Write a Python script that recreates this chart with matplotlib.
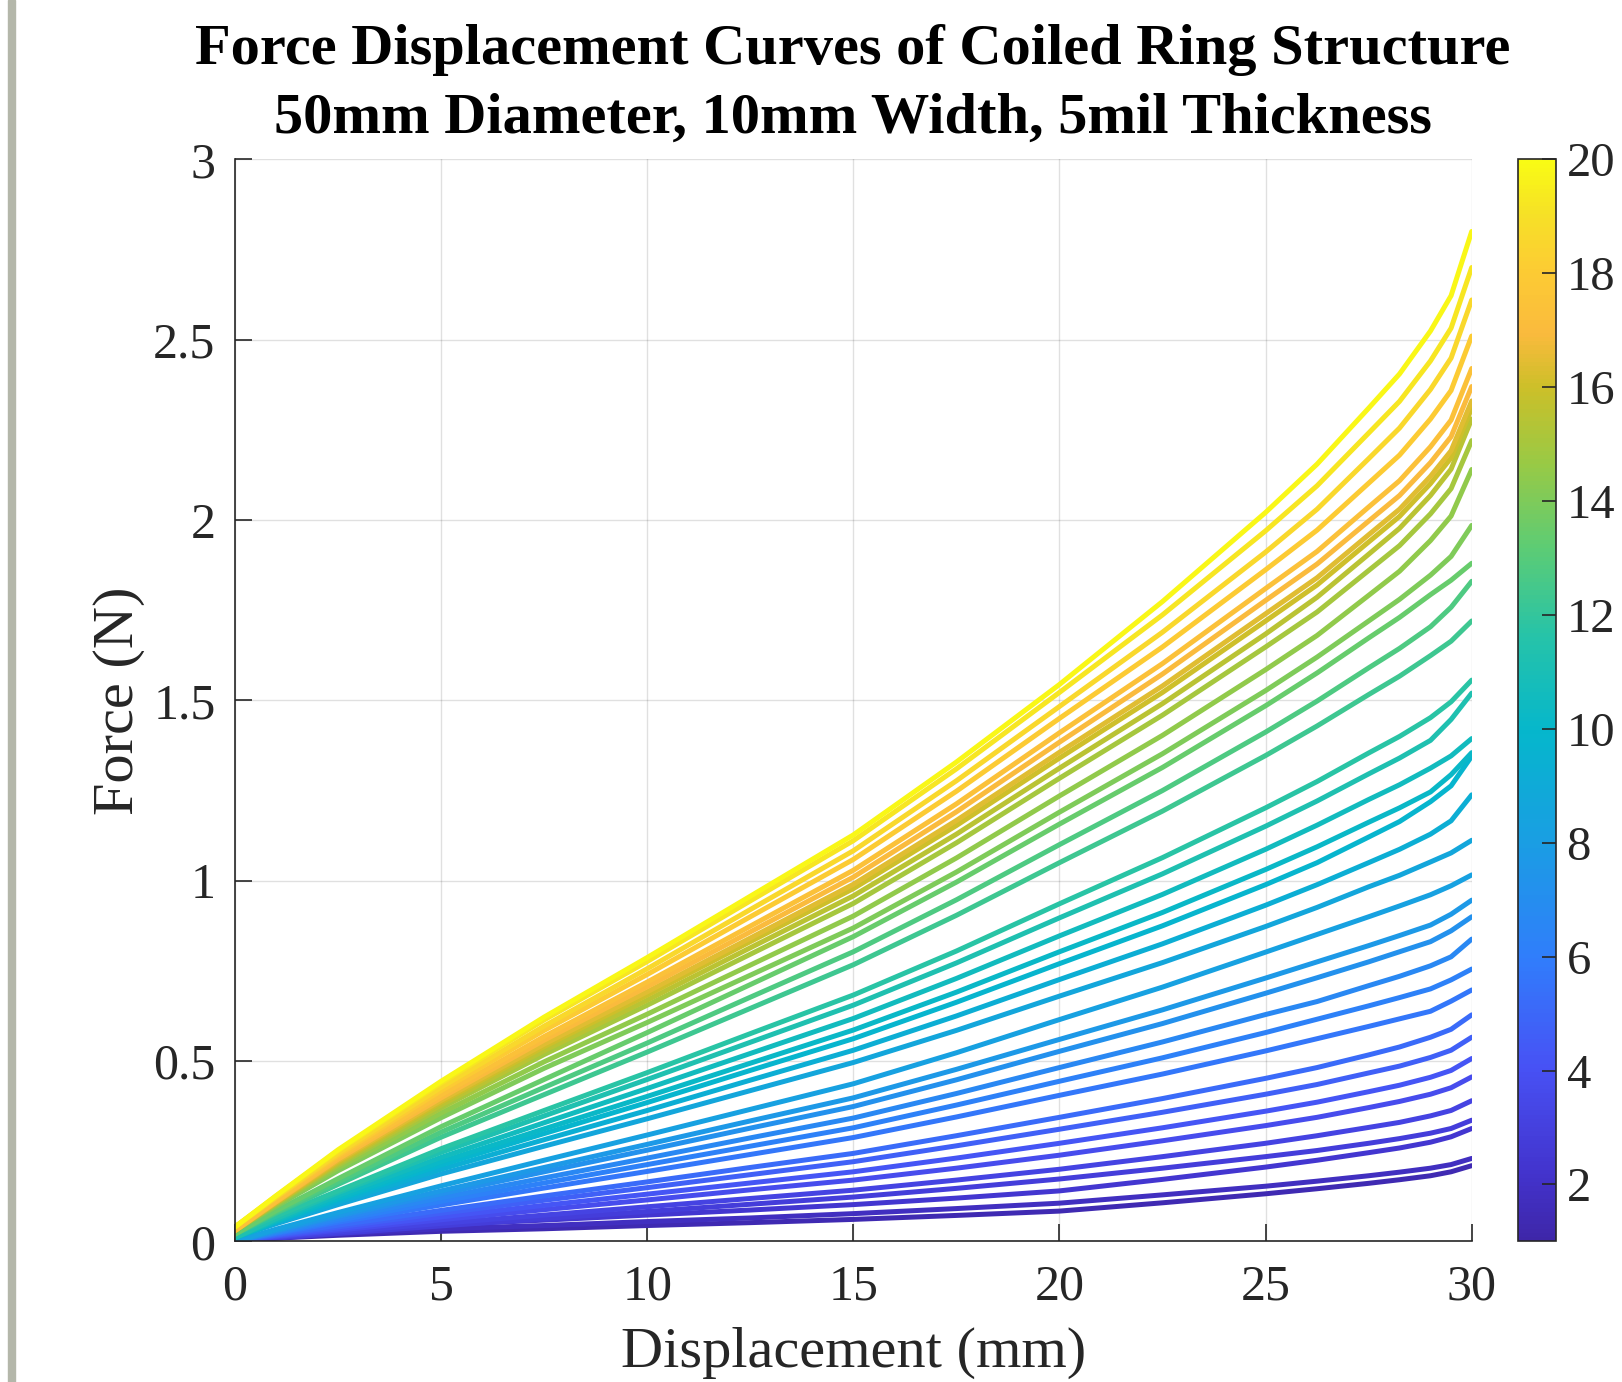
import numpy as np
import matplotlib
matplotlib.use("Agg")
import matplotlib.pyplot as plt
from matplotlib.colors import LinearSegmentedColormap, Normalize
from matplotlib.patches import Rectangle
from matplotlib.ticker import FuncFormatter

plt.rcParams['font.family'] = ['Liberation Serif', 'DejaVu Serif']

# displacement positions (mm) where the curves were read
x_pts = [0, 1, 2.5, 5, 7.5, 10, 12.5, 15, 17.5, 20, 22.5, 25, 26.25, 27.5, 28.25, 29, 29.5, 30]

# colour value of each curve (colorbar 1..20)
c_vals = [19.8, 19.2, 18.6, 18.0, 17.4, 17.0, 16.4, 16.0, 15.5, 15.0, 14.5, 14.0,
          13.4, 12.8, 12.3, 11.7, 11.3, 10.6, 10.2, 9.8, 9.3, 8.7,
          8.2, 7.7, 7.2, 6.7, 6.2, 5.7, 5.2, 4.7, 4.2, 3.7, 3.2, 2.8,
          2.4, 1.8, 1.3]

# force (N) of every curve at each displacement
f_0 = [0.04, 0.04, 0.04, 0.04, 0.03, 0.03, 0.03, 0.03, 0.03, 0.03, 0.03, 0.03,
       0.02, 0.02, 0.02, 0.02, 0.01, 0.01, 0.01, 0.01, 0.01, 0.01,
       0, 0, 0, 0, 0, 0, 0, 0, 0, 0, 0, 0, 0, 0, 0]
f_1 = [0.127, 0.126, 0.123, 0.121, 0.112, 0.110, 0.109, 0.107, 0.106, 0.104, 0.101, 0.097,
       0.085, 0.081, 0.078, 0.070, 0.063, 0.059, 0.056, 0.055, 0.052, 0.049,
       0.034, 0.031, 0.029, 0.026, 0.024, 0.022, 0.019, 0.017, 0.015, 0.013, 0.011, 0.009,
       0.014, 0.011, 0.009]
f_2p5 = [0.254, 0.251, 0.244, 0.239, 0.233, 0.228, 0.224, 0.220, 0.216, 0.211, 0.204, 0.196,
         0.174, 0.165, 0.158, 0.140, 0.135, 0.127, 0.120, 0.116, 0.109, 0.102,
         0.080, 0.073, 0.069, 0.063, 0.058, 0.053, 0.045, 0.040, 0.035, 0.031, 0.026, 0.022,
         0.028, 0.021, 0.017]
f_5 = [0.444, 0.439, 0.427, 0.418, 0.406, 0.398, 0.391, 0.386, 0.378, 0.370, 0.356, 0.343,
       0.318, 0.303, 0.289, 0.257, 0.247, 0.233, 0.221, 0.212, 0.200, 0.187,
       0.154, 0.140, 0.132, 0.121, 0.111, 0.101, 0.086, 0.078, 0.068, 0.060, 0.050, 0.043,
       0.046, 0.035, 0.028]
f_7p5 = [0.622, 0.614, 0.597, 0.585, 0.568, 0.558, 0.547, 0.540, 0.529, 0.518, 0.498, 0.480,
         0.449, 0.427, 0.407, 0.363, 0.348, 0.329, 0.312, 0.299, 0.282, 0.264,
         0.225, 0.205, 0.193, 0.176, 0.162, 0.148, 0.126, 0.114, 0.100, 0.088, 0.073, 0.063,
         0.059, 0.044, 0.035]
f_10 = [0.787, 0.776, 0.756, 0.740, 0.719, 0.706, 0.692, 0.683, 0.669, 0.655, 0.630, 0.607,
        0.579, 0.550, 0.525, 0.468, 0.449, 0.424, 0.402, 0.385, 0.363, 0.340,
        0.295, 0.269, 0.253, 0.231, 0.213, 0.194, 0.165, 0.149, 0.131, 0.115, 0.096, 0.083,
        0.073, 0.055, 0.044]
f_12p5 = [0.957, 0.944, 0.920, 0.900, 0.874, 0.858, 0.841, 0.831, 0.814, 0.796, 0.766, 0.738,
          0.712, 0.677, 0.646, 0.576, 0.552, 0.521, 0.494, 0.474, 0.447, 0.418,
          0.366, 0.334, 0.314, 0.287, 0.264, 0.241, 0.205, 0.185, 0.162, 0.143, 0.119, 0.103,
          0.087, 0.065, 0.052]
f_15 = [1.127, 1.111, 1.083, 1.059, 1.029, 1.010, 0.990, 0.978, 0.958, 0.937, 0.902, 0.869,
        0.845, 0.803, 0.767, 0.683, 0.655, 0.618, 0.586, 0.562, 0.530, 0.496,
        0.437, 0.398, 0.374, 0.342, 0.315, 0.288, 0.244, 0.221, 0.193, 0.170, 0.142, 0.123,
        0.102, 0.077, 0.061]
f_17p5 = [1.329, 1.310, 1.277, 1.248, 1.213, 1.191, 1.167, 1.153, 1.129, 1.105, 1.063, 1.024,
          0.996, 0.947, 0.904, 0.805, 0.772, 0.729, 0.691, 0.663, 0.625, 0.585,
          0.523, 0.477, 0.448, 0.410, 0.378, 0.345, 0.293, 0.265, 0.231, 0.203, 0.170, 0.147,
          0.120, 0.091, 0.072]
f_20 = [1.544, 1.522, 1.483, 1.450, 1.410, 1.384, 1.356, 1.340, 1.312, 1.284, 1.235, 1.190,
        1.157, 1.100, 1.050, 0.936, 0.897, 0.847, 0.803, 0.770, 0.726, 0.680,
        0.615, 0.560, 0.527, 0.482, 0.444, 0.405, 0.344, 0.311, 0.272, 0.239, 0.200, 0.173,
        0.140, 0.106, 0.084]
f_22p5 = [1.774, 1.737, 1.689, 1.648, 1.602, 1.573, 1.540, 1.522, 1.491, 1.459, 1.403, 1.352,
          1.314, 1.250, 1.193, 1.064, 1.019, 0.962, 0.912, 0.875, 0.825, 0.773,
          0.705, 0.642, 0.604, 0.553, 0.509, 0.464, 0.396, 0.358, 0.315, 0.279, 0.235, 0.203,
          0.172, 0.129, 0.107]
f_25 = [2.021, 1.970, 1.911, 1.862, 1.810, 1.777, 1.740, 1.720, 1.684, 1.648, 1.585, 1.527,
        1.485, 1.412, 1.347, 1.202, 1.151, 1.087, 1.031, 0.989, 0.932, 0.873,
        0.802, 0.730, 0.688, 0.629, 0.579, 0.528, 0.452, 0.408, 0.361, 0.321, 0.272, 0.235,
        0.206, 0.153, 0.132]
f_26p25 = [2.155, 2.095, 2.030, 1.972, 1.913, 1.878, 1.840, 1.820, 1.786, 1.745, 1.680, 1.620,
           1.576, 1.498, 1.429, 1.275, 1.221, 1.154, 1.094, 1.050, 0.989, 0.926,
           0.851, 0.775, 0.731, 0.665, 0.616, 0.562, 0.482, 0.435, 0.386, 0.344, 0.293, 0.252,
           0.225, 0.167, 0.146]
f_27p5 = [2.310, 2.241, 2.170, 2.102, 2.036, 1.997, 1.959, 1.939, 1.905, 1.860, 1.791, 1.720,
          1.673, 1.590, 1.516, 1.354, 1.296, 1.225, 1.162, 1.121, 1.050, 0.983,
          0.900, 0.820, 0.775, 0.709, 0.653, 0.596, 0.517, 0.467, 0.415, 0.371, 0.316, 0.272,
          0.246, 0.182, 0.161]
f_28p25 = [2.405, 2.329, 2.255, 2.180, 2.109, 2.068, 2.030, 2.010, 1.977, 1.929, 1.858, 1.780,
           1.730, 1.644, 1.567, 1.400, 1.340, 1.266, 1.202, 1.164, 1.087, 1.015,
           0.930, 0.848, 0.803, 0.735, 0.676, 0.617, 0.539, 0.486, 0.433, 0.388, 0.330, 0.285,
           0.259, 0.192, 0.171]
f_29 = [2.524, 2.441, 2.362, 2.280, 2.203, 2.159, 2.121, 2.101, 2.068, 2.017, 1.943, 1.847,
        1.793, 1.704, 1.624, 1.452, 1.389, 1.312, 1.246, 1.219, 1.129, 1.052,
        0.961, 0.877, 0.831, 0.764, 0.700, 0.638, 0.566, 0.510, 0.455, 0.408, 0.348, 0.300,
        0.275, 0.203, 0.182]
f_29p5 = [2.622, 2.532, 2.449, 2.359, 2.277, 2.231, 2.192, 2.172, 2.141, 2.087, 2.011, 1.899,
          1.833, 1.758, 1.664, 1.496, 1.447, 1.346, 1.294, 1.263, 1.166, 1.077,
          0.986, 0.907, 0.861, 0.789, 0.725, 0.666, 0.588, 0.530, 0.474, 0.426, 0.363, 0.313,
          0.290, 0.213, 0.193]
f_30 = [2.80, 2.70, 2.61, 2.51, 2.42, 2.37, 2.33, 2.31, 2.28, 2.22, 2.14, 1.985,
        1.88, 1.83, 1.72, 1.556, 1.52, 1.394, 1.355, 1.345, 1.238, 1.112,
        1.016, 0.946, 0.90, 0.838, 0.755, 0.697, 0.628, 0.566, 0.507, 0.456, 0.39, 0.336,
        0.313, 0.23, 0.21]

# parula-like colormap, colours
cmap_pos = [0.0, 0.06, 0.16, 0.26, 0.37, 0.47, 0.56, 0.64, 0.72, 0.79, 0.84, 0.90, 0.95, 1.0]
cmap_rgb = [(0.243, 0.150, 0.660), (0.262, 0.200, 0.800), (0.280, 0.320, 0.960),
            (0.190, 0.490, 0.985), (0.100, 0.620, 0.890), (0.020, 0.715, 0.800),
            (0.150, 0.765, 0.660), (0.360, 0.800, 0.460), (0.600, 0.790, 0.270),
            (0.800, 0.750, 0.160), (0.980, 0.730, 0.240), (0.990, 0.800, 0.200),
            (0.965, 0.880, 0.150), (0.977, 0.984, 0.080)]
parula = LinearSegmentedColormap.from_list("parula", list(zip(cmap_pos, cmap_rgb)))
norm = Normalize(1, 20)

fig = plt.figure(figsize=(16.22, 13.82), dpi=100)
W, H = 1622, 1382
ax = fig.add_axes([235 / W, 1 - 1241.4 / H, (1471.7 - 235) / W, (1241.4 - 159.3) / H])

cols = [f_0, f_1, f_2p5, f_5, f_7p5, f_10, f_12p5, f_15, f_17p5, f_20, f_22p5,
        f_25, f_26p25, f_27p5, f_28p25, f_29, f_29p5, f_30]
table = np.array(cols).T
order = np.argsort(c_vals)
for i in order:
    ax.plot(x_pts, table[i], color=parula(norm(c_vals[i])), lw=3.6,
            solid_joinstyle='round', solid_capstyle='round')

ax.set_xlim(0, 30)
ax.set_ylim(0, 3)
ax.set_xticks([0, 5, 10, 15, 20, 25, 30])
ax.set_yticks([0, 0.5, 1, 1.5, 2, 2.5, 3])
ax.yaxis.set_major_formatter(FuncFormatter(lambda v, p: f"{v:g}"))
ax.grid(True, color='k', alpha=0.12, lw=1.0)
ax.set_axisbelow(True)
for s in ['top', 'right']:
    ax.spines[s].set_visible(False)
for s in ['left', 'bottom']:
    ax.spines[s].set_color('#262626')
    ax.spines[s].set_linewidth(1.2)
ax.tick_params(direction='in', length=12, width=1.2, color='#262626',
               labelsize=36, labelcolor='#262626')
ax.tick_params(axis='y', pad=14)
ax.tick_params(axis='x', pad=16)
ax.set_xlabel("Displacement (mm)", fontsize=42, color='#262626', labelpad=12)
ax.set_ylabel("Force (N)", fontsize=42, color='#262626', labelpad=6)

fig.text(853 / W, 1 - 50 / H, "Force Displacement Curves of Coiled Ring Structure",
         ha='center', va='center', fontsize=42, fontweight='bold')
fig.text(853 / W, 1 - 119 / H, "50mm Diameter, 10mm Width, 5mil Thickness",
         ha='center', va='center', fontsize=42, fontweight='bold')

cax = fig.add_axes([1517.5 / W, 1 - 1241.4 / H, 38 / W, (1241.4 - 159.3) / H])
cb = matplotlib.colorbar.ColorbarBase(cax, cmap=parula, norm=norm)
cb.set_ticks([2, 4, 6, 8, 10, 12, 14, 16, 18, 20])
cb.outline.set_edgecolor('#262626')
cb.outline.set_linewidth(1.2)
cax.tick_params(direction='in', length=10, width=1.2, color='#262626',
                labelsize=35, labelcolor='#262626', pad=8)

# grey bar at the left edge of the page
fig.patches.append(Rectangle((8 / W, 0), 7 / W, 1, transform=fig.transFigure,
                             color='#b4b7aa', zorder=0))

fig.savefig("out.png", dpi=100, facecolor='white')
